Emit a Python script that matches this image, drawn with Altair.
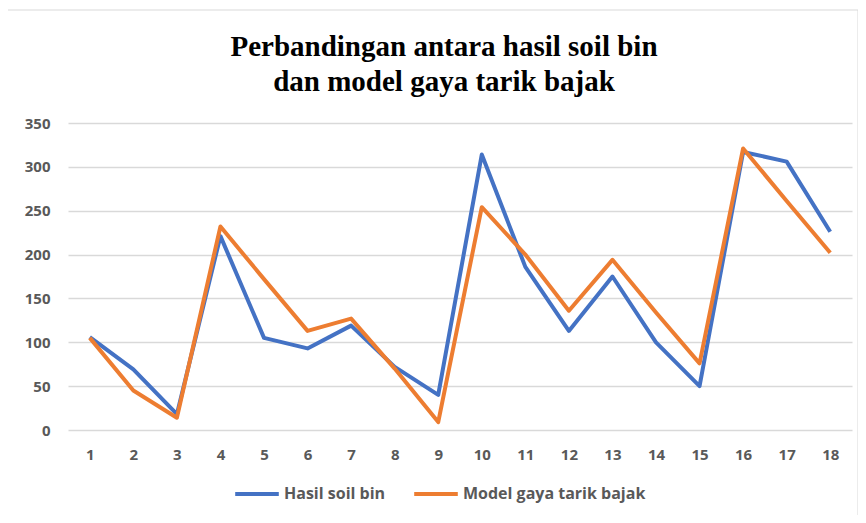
import altair as alt
import pandas as pd

categories = [str(i) for i in range(1, 19)]
hasil_soil_bin = [106, 69, 18, 221, 105, 93, 119, 72, 40, 314, 186, 113, 175, 100, 50, 317, 306, 226]
model_gaya = [105, 45, 14, 232, 172, 113, 127, 70, 9, 254, 200, 136, 194, 134, 76, 321, 261, 202]
series_names = ["Hasil soil bin", "Model gaya tarik bajak"]
colors = ["#4472C4", "#ED7D31"]
title_lines = ["Perbandingan antara hasil soil bin", "dan model gaya tarik bajak"]

df = pd.DataFrame({"x": categories, series_names[0]: hasil_soil_bin, series_names[1]: model_gaya})
long = df.melt(id_vars="x", var_name="series", value_name="value")

lines = alt.Chart(long).mark_line(strokeWidth=4, strokeJoin="round").encode(
    x=alt.X("x:O", sort=categories, scale=alt.Scale(type="point", padding=0.5),
            axis=alt.Axis(title=None, labelAngle=0, labelPadding=17, ticks=False, domain=False, grid=False)),
    y=alt.Y("value:Q", scale=alt.Scale(domain=[0, 350]),
            axis=alt.Axis(title=None, values=[0, 50, 100, 150, 200, 250, 300, 350], labelPadding=18,
                          ticks=False, domain=False, gridColor="#d9d9d9", gridWidth=1.5)),
    color=alt.Color("series:N", sort=series_names,
                    scale=alt.Scale(domain=series_names, range=colors),
                    legend=alt.Legend(title=None, orient="none", legendX=165, legendY=347,
                                      direction="horizontal", symbolType="stroke",
                                      symbolStrokeWidth=4, symbolSize=1900, labelOffset=3,
                                      columnPadding=20, labelFontSize=16, labelFont="Open Sans",
                                      labelLimit=400, labelColor="#595959", labelFontWeight="bold")),
)

base = alt.Chart(pd.DataFrame({"a": [0]}))
border = base.mark_rect(fill=None, stroke="#d9d9d9", strokeWidth=1).encode(
    x=alt.value(-61), x2=alt.value(790), y=alt.value(-113), y2=alt.value(410)
)
t1 = base.mark_text(font="Liberation Serif", fontSize=29, fontWeight="bold", color="#000000",
                    align="center", baseline="middle").encode(
    x=alt.value(376), y=alt.value(-76), text=alt.value(title_lines[0]))
t2 = base.mark_text(font="Liberation Serif", fontSize=29, fontWeight="bold", color="#000000",
                    align="center", baseline="middle").encode(
    x=alt.value(376), y=alt.value(-41), text=alt.value(title_lines[1]))

chart = alt.layer(border, lines, t1, t2).properties(
    width=784, height=307,
    autosize=alt.AutoSizeParams(type="none"),
    padding={"left": 60, "top": 115, "right": 6, "bottom": 85},
).configure_view(stroke=None).configure_axis(
    labelFont="Open Sans", labelFontSize=15, labelColor="#595959", labelFontWeight="bold"
)

chart.save("out.html", embed_options={"renderer": "svg", "actions": False})
